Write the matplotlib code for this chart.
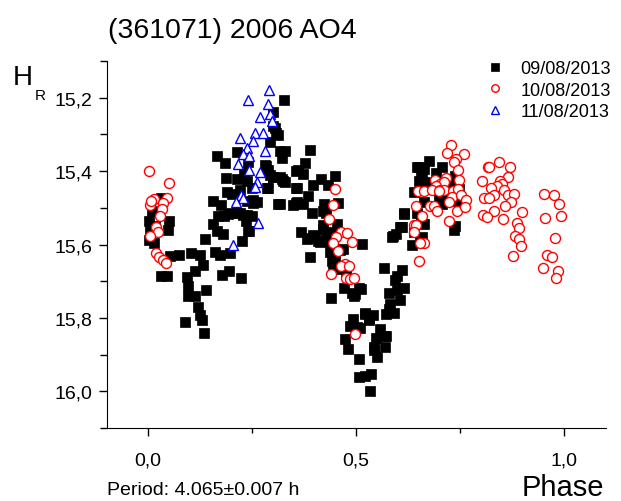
import numpy as np
import matplotlib
matplotlib.use("Agg")
import matplotlib.pyplot as plt
from matplotlib.ticker import FuncFormatter, MultipleLocator

matplotlib.rcParams['font.family'] = ['Liberation Sans', 'DejaVu Sans']

# 09/08/2013 (black squares): phase, H_R
phase_0908 = [
	0.031, 0.009, 0.001, 0.049, 0.017, 0.047, 0.005, 0.001, 0.013, 0.053, 0.075, 0.032, 0.046,
	0.103, 0.124, 0.133, 0.112, 0.094, 0.096, 0.139, 0.096, 0.113, 0.121, 0.125, 0.130, 0.089,
	0.135, 0.137, 0.161, 0.173, 0.177, 0.195, 0.224, 0.197, 0.226, 0.243,
	0.166, 0.184, 0.187, 0.214, 0.213, 0.157, 0.174, 0.189, 0.201, 0.221, 0.237, 0.230, 0.241,
	0.169, 0.183, 0.191, 0.197, 0.213, 0.221, 0.229, 0.237, 0.250, 0.157, 0.165, 0.181, 0.236,
	0.241, 0.253, 0.261, 0.253, 0.237, 0.249, 0.285, 0.283, 0.287, 0.292, 0.299, 0.301, 0.308,
	0.311, 0.293, 0.301, 0.305, 0.311, 0.316, 0.327, 0.316, 0.329, 0.321, 0.317, 0.325, 0.329,
	0.301, 0.321, 0.356, 0.357, 0.356, 0.287, 0.281,
	0.390, 0.377, 0.360, 0.373, 0.415, 0.450, 0.395, 0.431, 0.355, 0.383, 0.357, 0.371, 0.349,
	0.393, 0.423, 0.421, 0.428, 0.457, 0.419, 0.454, 0.367, 0.381, 0.385, 0.397, 0.401, 0.409,
	0.413, 0.420, 0.428, 0.431, 0.438, 0.445, 0.388, 0.436, 0.442, 0.462, 0.469, 0.445, 0.457,
	0.476, 0.514, 0.450,
	0.471, 0.490, 0.506, 0.512, 0.498, 0.494, 0.439, 0.522, 0.540, 0.531, 0.520, 0.492, 0.530,
	0.486, 0.502, 0.510, 0.556, 0.572, 0.472, 0.548, 0.481, 0.543, 0.542, 0.570, 0.550, 0.507,
	0.506, 0.522, 0.536, 0.534,
	0.567, 0.609, 0.599, 0.594, 0.614, 0.598, 0.578, 0.606, 0.582, 0.578, 0.590, 0.572, 0.566,
	0.608, 0.596, 0.586, 0.588, 0.635, 0.615, 0.614, 0.610, 0.606, 0.638, 0.646, 0.650, 0.662,
	0.656, 0.658, 0.666, 0.650, 0.656, 0.662, 0.652, 0.658, 0.646, 0.638, 0.675, 0.706, 0.692,
	0.718, 0.738, 0.732, 0.670, 0.746, 0.698, 0.714, 0.742, 0.662, 0.706, 0.738, 0.736,
]
mag_0908 = [
	15.474, 15.508, 15.535, 15.536, 15.550, 15.561, 15.563, 15.588, 15.597, 15.632, 15.629, 15.685, 15.686,
	15.623, 15.629, 15.656, 15.671, 15.689, 15.713, 15.724, 15.740, 15.740, 15.771, 15.793, 15.807, 15.811,
	15.841, 15.585, 15.620, 15.629, 15.683, 15.671, 15.691, 15.624, 15.590, 15.563,
	15.359, 15.379, 15.419, 15.422, 15.347, 15.481, 15.493, 15.458, 15.463, 15.452, 15.426, 15.402, 15.375,
	15.522, 15.522, 15.518, 15.515, 15.515, 15.513, 15.520, 15.519, 15.521, 15.545, 15.563, 15.571, 15.535,
	15.563, 15.478, 15.485, 15.487, 15.481, 15.445, 15.445, 15.385, 15.398, 15.411, 15.417, 15.277, 15.295,
	15.302, 15.320, 15.239, 15.282, 15.490, 15.491, 15.205, 15.345, 15.345, 15.363, 15.417, 15.427, 15.431,
	15.417, 15.422, 15.399, 15.445, 15.487, 15.445, 15.384,
	15.343, 15.379, 15.398, 15.408, 15.421, 15.413, 15.438, 15.437, 15.447, 15.469, 15.485, 15.490, 15.493,
	15.515, 15.490, 15.508, 15.513, 15.488, 15.547, 15.544, 15.566, 15.585, 15.583, 15.574, 15.576, 15.590,
	15.594, 15.558, 15.574, 15.573, 15.592, 15.567, 15.635, 15.621, 15.644, 15.614, 15.612, 15.653, 15.667,
	15.680, 15.599, 15.644,
	15.719, 15.732, 15.719, 15.722, 15.734, 15.739, 15.747, 15.789, 15.792, 15.801, 15.787, 15.803, 15.807,
	15.821, 15.825, 15.827, 15.830, 15.849, 15.857, 15.854, 15.885, 15.888, 15.879, 15.879, 15.907, 15.913,
	15.960, 15.957, 15.952, 16.000,
	15.663, 15.670, 15.686, 15.696, 15.718, 15.723, 15.732, 15.750, 15.762, 15.775, 15.786, 15.790, 15.848,
	15.551, 15.571, 15.580, 15.576, 15.601, 15.517, 15.515, 15.551, 15.551, 15.458, 15.390, 15.389, 15.395,
	15.399, 15.411, 15.431, 15.427, 15.531, 15.544, 15.582, 15.580, 15.513, 15.567, 15.372, 15.390, 15.404,
	15.427, 15.413, 15.436, 15.445, 15.449, 15.467, 15.472, 15.481, 15.485, 15.490, 15.549, 15.561,
]

# 10/08/2013 (red circles)
phase_1008 = [
	0.001, 0.049, 0.013, 0.045, 0.005, 0.035, 0.033, 0.029, 0.019, 0.023, 0.005, 0.019, 0.027,
	0.035, 0.043, 0.007,
	0.450, 0.445, 0.435, 0.464, 0.452, 0.479, 0.443, 0.489, 0.456, 0.472, 0.463, 0.482, 0.439,
	0.476, 0.486, 0.494, 0.496,
	0.648, 0.663, 0.644, 0.678, 0.659, 0.638, 0.644, 0.638, 0.662, 0.654, 0.651, 0.728, 0.718,
	0.758, 0.740, 0.736, 0.744, 0.690, 0.716, 0.747, 0.702, 0.710, 0.692, 0.682, 0.702, 0.712,
	0.698, 0.732, 0.744, 0.730, 0.752, 0.764, 0.722, 0.686, 0.694, 0.742, 0.762, 0.724, 0.817,
	0.802,
	0.844, 0.820, 0.869, 0.864, 0.846, 0.850, 0.837, 0.824, 0.854, 0.830, 0.864, 0.878, 0.808,
	0.818, 0.872, 0.858, 0.832, 0.898, 0.804, 0.815, 0.852, 0.886, 0.892, 0.881, 0.890, 0.896,
	0.876, 0.952, 0.974, 0.988, 0.954, 0.992, 0.978, 0.958, 0.970, 0.948, 0.984, 0.981,
]
mag_1008 = [
	15.400, 15.433, 15.476, 15.472, 15.492, 15.487, 15.502, 15.522, 15.553, 15.567, 15.576, 15.623, 15.635,
	15.642, 15.651, 15.482,
	15.449, 15.492, 15.531, 15.565, 15.580, 15.569, 15.597, 15.592, 15.618, 15.653, 15.659, 15.658, 15.680,
	15.692, 15.694, 15.692, 15.843,
	15.455, 15.455, 15.495, 15.495, 15.522, 15.546, 15.547, 15.567, 15.596, 15.597, 15.646, 15.329, 15.352,
	15.354, 15.368, 15.374, 15.397, 15.425, 15.419, 15.425, 15.436, 15.431, 15.440, 15.451, 15.451, 15.451,
	15.455, 15.454, 15.449, 15.470, 15.465, 15.478, 15.484, 15.495, 15.508, 15.508, 15.499, 15.537, 15.389,
	15.427,
	15.374, 15.389, 15.389, 15.417, 15.428, 15.436, 15.440, 15.447, 15.451, 15.465, 15.465, 15.463, 15.474,
	15.474, 15.485, 15.495, 15.508, 15.511, 15.520, 15.526, 15.531, 15.542, 15.555, 15.576, 15.585, 15.605,
	15.630, 15.463, 15.465, 15.490, 15.528, 15.522, 15.582, 15.628, 15.633, 15.665, 15.673, 15.691,
]

# 11/08/2013 (blue triangles)
phase_1108 = [
	0.291, 0.241, 0.289, 0.268, 0.292, 0.297, 0.257, 0.277, 0.221, 0.251, 0.237, 0.281,
	0.228, 0.243, 0.216, 0.242, 0.268, 0.261, 0.257, 0.223, 0.228, 0.212, 0.265, 0.205,
]
mag_1108 = [
	15.180, 15.207, 15.216, 15.252, 15.245, 15.264, 15.295, 15.297, 15.309, 15.318, 15.336, 15.345,
	15.354, 15.360, 15.381, 15.397, 15.402, 15.429, 15.442, 15.465, 15.472, 15.484, 15.542, 15.601,
]

labels = ["09/08/2013", "10/08/2013", "11/08/2013"]


def comma_format(value, position):
	return ("%.1f" % value).replace(".", ",")


fig = plt.figure(figsize=(6.21, 5.02), dpi=100)
ax = fig.add_axes([0.1715, 0.1454, 0.8043, 0.7311])

ax.plot(phase_0908, mag_0908, ls='none', marker='s', ms=6.8, mfc='black', mec='black',
	mew=0.5, label=labels[0])
ax.plot(phase_1008, mag_1008, ls='none', marker='o', ms=7.2, mfc='white', mec='#ff0000',
	mew=1.0, label=labels[1])
ax.plot(phase_1108, mag_1108, ls='none', marker='^', ms=7.6, mfc='white', mec='#0000ff',
	mew=1.0, label=labels[2])

ax.set_xlim(-0.1, 1.1)
ax.set_ylim(16.1, 15.1)

ax.spines['top'].set_visible(False)
ax.spines['right'].set_visible(False)

ax.xaxis.set_major_locator(MultipleLocator(0.5))
ax.xaxis.set_minor_locator(MultipleLocator(0.25))
ax.yaxis.set_major_locator(MultipleLocator(0.2))
ax.yaxis.set_minor_locator(MultipleLocator(0.1))
ax.xaxis.set_major_formatter(FuncFormatter(comma_format))
ax.yaxis.set_major_formatter(FuncFormatter(comma_format))

ax.tick_params(which='major', direction='out', length=6, width=1, labelsize=14)
ax.tick_params(which='minor', direction='out', length=3.5, width=1)
ax.tick_params(axis='y', which='minor', length=5)
ax.tick_params(axis='y', which='major', pad=4)
ax.tick_params(axis='x', which='major', pad=11)

leg = ax.legend(loc='upper left', bbox_to_anchor=(475 / 621, 1 - 52 / 502),
	bbox_transform=fig.transFigure, frameon=False, fontsize=13,
	handlelength=1.2, handletextpad=0.8, labelspacing=0.25, borderpad=0, markerscale=0.75)

fig.text(108 / 621, 1 - 31 / 502, "(361071) 2006 AO4", fontsize=20.5, va='center', ha='left')
fig.text(13 / 621, 1 - 78 / 502, "H", fontsize=20, va='center', ha='left')
fig.text(35 / 621, 1 - 96 / 502, "R", fontsize=11, va='center', ha='left')
fig.text(107 / 621, 1 - 491 / 502, "Period: 4.065\u00b10.007 h", fontsize=14, va='center', ha='left')
fig.text(604 / 621, 1 - 488 / 502, "Phase", fontsize=21, va='center', ha='right')

fig.savefig("out.png", dpi=100)
